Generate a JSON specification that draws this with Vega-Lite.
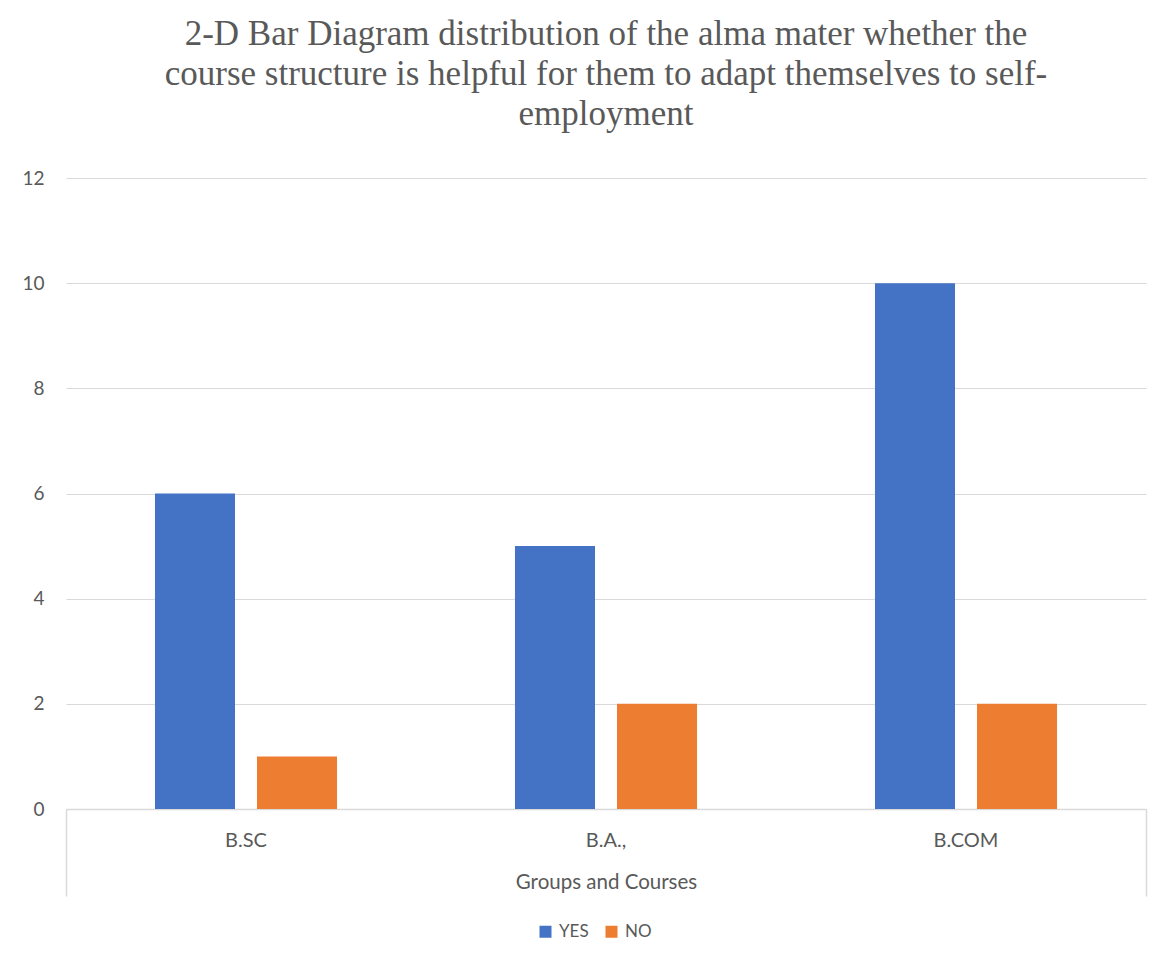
{
  "$schema": "https://vega.github.io/schema/vega-lite/v6.json",
  "width": 1080,
  "height": 631,
  "autosize": "none",
  "padding": {"left": 66, "top": 178, "right": 19, "bottom": 151},
  "background": "white",
  "config": {
    "view": {"stroke": null},
    "font": "Lato",
    "axis": {"labelFont": "Lato", "titleFont": "Lato", "labelColor": "#595959", "titleColor": "#595959"}
  },
  "title": {
    "text": ["2-D Bar Diagram distribution of the alma mater whether the", "course structure is helpful for them to adapt themselves to self-", "employment"],
    "font": "Liberation Serif",
    "fontSize": 35,
    "fontWeight": "normal",
    "color": "#595959",
    "lineHeight": 40,
    "anchor": "middle",
    "frame": "group",
    "offset": 37
  },
  "data": {
    "values": [
      {"course": "B.SC", "answer": "YES", "count": 6},
      {"course": "B.SC", "answer": "NO", "count": 1},
      {"course": "B.A.,", "answer": "YES", "count": 5},
      {"course": "B.A.,", "answer": "NO", "count": 2},
      {"course": "B.COM", "answer": "YES", "count": 10},
      {"course": "B.COM", "answer": "NO", "count": 2}
    ]
  },
  "layer": [
    {
      "mark": {"type": "bar"},
      "encoding": {
        "x": {
          "field": "course",
          "type": "nominal",
          "sort": ["B.SC", "B.A.,", "B.COM"],
          "scale": {"paddingInner": 0, "paddingOuter": 0},
          "axis": {
            "orient": "bottom",
            "labelAngle": 0,
            "labelFontSize": 20,
            "labelPadding": 21,
            "ticks": false,
            "domainColor": "#d9d9d9",
            "domainWidth": 1.5,
            "title": "Groups and Courses",
            "titleFontSize": 20.5,
            "titleFontWeight": "normal",
            "titlePadding": 22
          }
        },
        "xOffset": {
          "field": "answer",
          "type": "nominal",
          "sort": ["YES", "NO"],
          "scale": {"paddingInner": 0.2157, "paddingOuter": 0.872}
        },
        "y": {
          "field": "count",
          "type": "quantitative",
          "scale": {"domain": [0, 12]},
          "axis": {
            "values": [0, 2, 4, 6, 8, 10, 12],
            "labelFontSize": 19,
            "labelPadding": 22,
            "ticks": false,
            "domain": false,
            "gridColor": "#d9d9d9",
            "gridWidth": 1.2,
            "title": null
          }
        },
        "color": {
          "field": "answer",
          "type": "nominal",
          "sort": ["YES", "NO"],
          "scale": {"domain": ["YES", "NO"], "range": ["#4472C4", "#ED7D31"]},
          "legend": {
            "title": null,
            "orient": "none",
            "direction": "horizontal",
            "legendX": 471,
            "legendY": 745,
            "symbolType": "square",
            "symbolSize": 144,
            "symbolStrokeWidth": 0,
            "labelFontSize": 17,
            "labelColor": "#595959",
            "labelFont": "Lato",
            "columnPadding": 14,
            "labelOffset": 5
          }
        }
      }
    },
    {
      "data": {"values": [{"edge": 0}, {"edge": 1}]},
      "mark": {"type": "rule", "opacity": 0},
      "encoding": {
        "x": {
          "field": "edge",
          "type": "quantitative",
          "scale": {"domain": [0, 1], "nice": false, "zero": false},
          "axis": {
            "orient": "bottom",
            "values": [0, 1],
            "labels": false,
            "domain": false,
            "grid": false,
            "tickSize": 87,
            "tickColor": "#d9d9d9",
            "tickWidth": 1.5,
            "title": null,
            "offset": 0
          }
        }
      }
    }
  ],
  "resolve": {"scale": {"x": "independent", "xOffset": "independent"}, "axis": {"x": "independent"}}
}
